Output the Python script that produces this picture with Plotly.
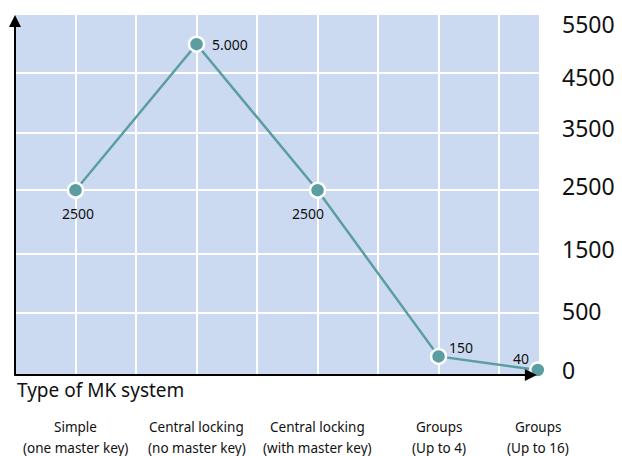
import numpy as np
import plotly.graph_objects as go

# ---- data ----
categories = ["Simple<br>(one master key)", "Central locking<br>(no master key)",
              "Central locking<br>(with master key)", "Groups<br>(Up to 4)", "Groups<br>(Up to 16)"]
values = [2500, 5000, 2500, 150, 40]
value_labels = ["2500", "5.000", "2500", "150", "40"]
y_tick_values = [0, 500, 1500, 2500, 3500, 4500, 5500]
y_tick_labels = ["0", "500", "1500", "2500", "3500", "4500", "5500"]
x_title = "Type of MK system"

# ---- schematic axes ----
# category positions along the x axis (last group drawn at the arrow tip)
cat_pos = [0, 1, 2, 3, 3.82]
# grid slots of the schematic (non-linear) y scale, as drawn in the picture
tick_slots = [0, 1.03, 2.02, 3.08, 4.03, 5.03, 6]
# where the tick labels sit on that scale (top label drawn a little below the edge)
label_slots = [0.06, 1.05, 2.08, 3.13, 4.1, 4.95, 5.83]
y_slot = np.interp(values, y_tick_values, tick_slots)

FONT = "Noto Sans"
TEAL = "#5b9ea2"
BG = "#ccdaf1"
INK = "#111111"

# label offsets (px) relative to each point
label_shift = [(2, -23), (33, 0), (-10, -23), (22, 9), (-17, 12)]

fig = go.Figure()
fig.add_trace(go.Scatter(
    x=cat_pos, y=y_slot, mode="lines+markers",
    line=dict(color=TEAL, width=2.5),
    marker=dict(size=15, color=TEAL, line=dict(color="white", width=2.5)),
    cliponaxis=False, hoverinfo="skip", showlegend=False,
))
# invisible trace binding the label axis
fig.add_trace(go.Scatter(x=[cat_pos[0]], y=[0], yaxis="y2", mode="markers",
                         marker=dict(opacity=0), hoverinfo="skip", showlegend=False))

for xp, yp, lab, (dx, dy) in zip(cat_pos, y_slot, value_labels, label_shift):
    fig.add_annotation(x=xp, y=yp, xref="x", yref="y", text=lab, showarrow=False,
                       xshift=dx, yshift=dy, font=dict(family=FONT, size=14, color=INK))

# category labels (two lines each)
for p, c in zip(cat_pos, categories):
    for k, line in enumerate(c.split("<br>")):
        fig.add_annotation(x=p, y=0, xref="x", yref="paper", text=line, showarrow=False,
                           yshift=-52 - 21 * k, yanchor="middle",
                           font=dict(family=FONT, size=13.5, color=INK))

fig.add_annotation(x=0, y=0, xref="paper", yref="paper", text=x_title, showarrow=False,
                   xanchor="left", yanchor="middle", yshift=-15,
                   font=dict(family=FONT, size=19, color=INK))

# axis arrows
fig.add_annotation(x=0, y=1, xref="paper", yref="paper", ax=0, ay=362,
                   showarrow=True, arrowhead=2, arrowsize=1.2, arrowwidth=2, arrowcolor="black", text="")
fig.add_annotation(x=0.996, y=0, xref="paper", yref="paper", ax=-524, ay=0,
                   showarrow=True, arrowhead=2, arrowsize=1.2, arrowwidth=2, arrowcolor="black", text="")

fig.update_layout(
    width=622, height=456,
    margin=dict(l=15, r=83, t=15, b=81),
    paper_bgcolor="white", plot_bgcolor=BG,
    xaxis=dict(range=[-0.5, 3.83], tickvals=[-0.5 + 0.5 * i for i in range(1, 9)],
               showticklabels=False, showgrid=True, gridcolor="white", gridwidth=1.5,
               zeroline=False, showline=False, fixedrange=True),
    yaxis=dict(range=[-0.001, 6.001], side="right", tickvals=tick_slots, showticklabels=False,
               showgrid=True, gridcolor="white", gridwidth=1.5, zeroline=False, showline=False,
               automargin=False, fixedrange=True),
    yaxis2=dict(range=[-0.001, 6.001], overlaying="y", side="right",
                tickvals=label_slots, ticktext=y_tick_labels, showgrid=False,
                zeroline=False, showline=False,
                tickfont=dict(family=FONT, size=23, color=INK), ticklabelstandoff=22,
                ticklabeloverflow="allow", automargin=False, fixedrange=True),
)

fig.write_html("out.html", config={"displayModeBar": False},
               post_script="document.body.style.margin='0px';")
